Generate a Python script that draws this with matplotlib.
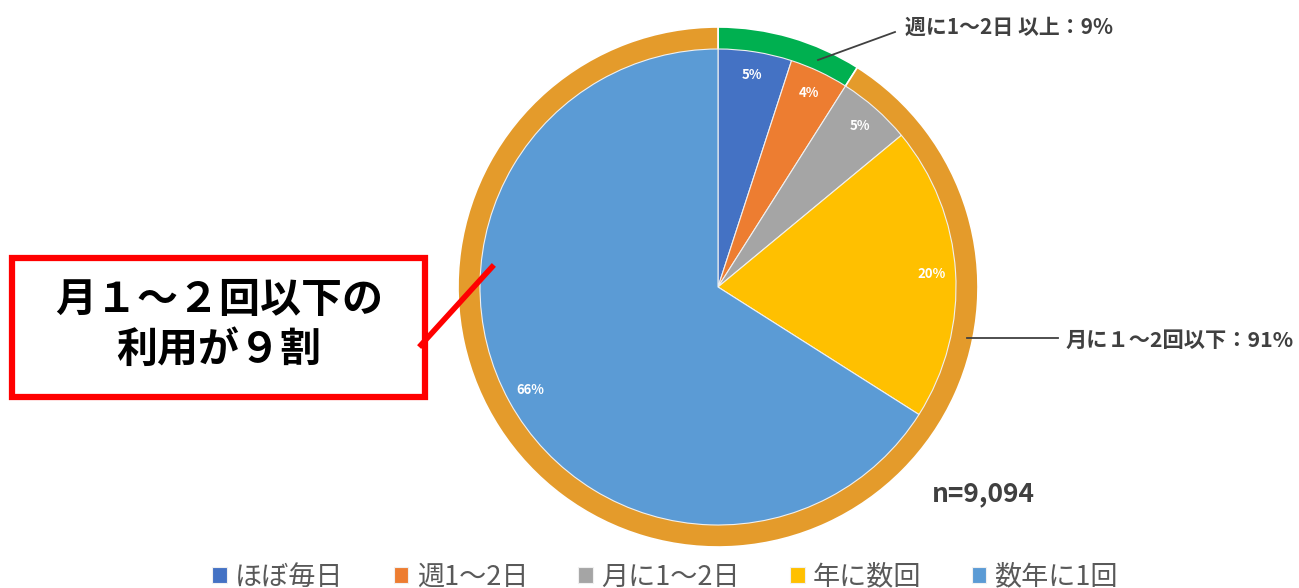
import matplotlib.pyplot as plt
from matplotlib.patches import Rectangle

plt.rcParams['font.family'] = ['Noto Sans CJK JP', 'DejaVu Sans']

# frequency of use (n=9,094)
categories = ['ほぼ毎日', '週1〜2日', '月に1〜2日', '年に数回', '数年に1回']
shares = [5, 4, 5, 20, 66]
colors = ['#4472C4', '#ED7D31', '#A5A5A5', '#FFC000', '#5B9BD5']

# grouped outer ring
groups = ['週に1〜2日 以上：9%', '月に１～2回以下：91%']
group_shares = [9, 91]
group_colors = ['#00B050', '#E49B2B']

W, H = 1299, 588
fig = plt.figure(figsize=(W / 100, H / 100), dpi=100)
ax = fig.add_axes([0, 0, 1, 1])

def Y(py):
    return H - py

cx, cy = 718, Y(287)

# outer ring first, pie on top
ax.pie(group_shares, colors=group_colors, startangle=90, counterclock=False,
       radius=260, center=(cx, cy),
       wedgeprops=dict(width=24, edgecolor='white', linewidth=1.2))

wedges, _, autotexts = ax.pie(
    shares, colors=colors, startangle=90, counterclock=False,
    radius=238, center=(cx, cy), autopct='%d%%', pctdistance=0.9,
    wedgeprops=dict(edgecolor='#f0f0f0', linewidth=0.8),
    textprops=dict(color='white', fontsize=9.5, fontweight='bold'))

ax.set_xlim(0, W)
ax.set_ylim(0, H)
ax.set_aspect('equal')
ax.axis('off')

# leader lines for the ring groups
ax.plot([818, 895], [Y(60), Y(32)], color='#404040', lw=1.3)
ax.text(905, Y(27), groups[0], fontsize=15, fontweight='bold',
        color='#404040', va='center', ha='left')
ax.plot([967, 1058], [Y(338), Y(338)], color='#404040', lw=1.3)
ax.text(1066, Y(340), groups[1], fontsize=15.3, fontweight='bold',
        color='#404040', va='center', ha='left')

ax.text(983, Y(494), 'n=9,094', fontsize=19, fontweight='bold',
        color='#404040', va='center', ha='center')

# red callout
ax.add_patch(Rectangle((12, Y(397)), 413, 139, facecolor='white',
                       edgecolor='#FF0000', lw=4.5, zorder=5))
ax.plot([421, 492], [Y(345), Y(267)], color='#FF0000', lw=4, zorder=6)
ax.text(219, Y(300), '月１～２回以下の', fontsize=29.5, fontweight='bold',
        color='black', ha='center', va='center', zorder=7)
ax.text(219, Y(350), '利用が９割', fontsize=29.5, fontweight='bold',
        color='black', ha='center', va='center', zorder=7)

leg = ax.legend(wedges, categories, loc='center', ncol=5, frameon=False,
                bbox_to_anchor=(665 / W, 11 / H), fontsize=19.5,
                handlelength=0.55, handleheight=0.55, handletextpad=0.3,
                columnspacing=1.85, labelcolor='#595959')

fig.savefig('out.png', dpi=100, facecolor='white')
